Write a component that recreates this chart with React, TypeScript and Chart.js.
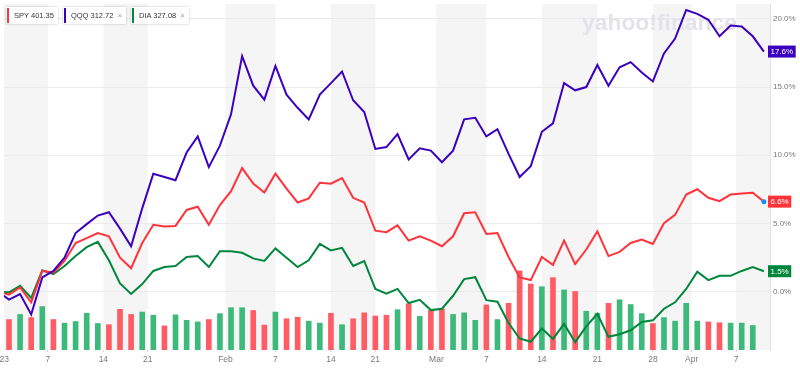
import { useEffect, useRef } from "react";
import { Chart, registerables } from "chart.js";

Chart.register(...registerables);

// ---- data ----
const tickers = ["SPY", "QQQ", "DIA"];
const prices = ["401.35", "312.72", "327.08"];
const removable = [false, true, true];

// % change, first value = previous close (Dec 30), then trading days Jan 3 .. Apr 12
const spyChange = [
  0, -0.22, 0.31, -0.78, 1.52, 1.4, 2.25, 3.57, 3.93, 4.3, 4.06, 2.49, 1.72, 3.57, 4.9, 4.78, 4.82,
  5.99, 6.23, 4.9, 6.35, 7.37, 9.06, 7.92, 7.27, 8.65, 7.56, 6.54, 6.84, 7.99, 7.92, 8.33, 6.88,
  6.54, 4.47, 4.36, 4.86, 3.74, 4.06, 3.74, 3.33, 4.06, 5.75, 5.82, 4.23, 4.3, 2.54, 1.04, 0.85,
  2.54, 1.96, 3.74, 2.02, 3.09, 4.42, 2.61, 2.92, 3.57, 3.82, 3.5, 5.02, 5.63, 7.12, 7.51, 6.88,
  6.64, 7.12, 7.2, 7.25, 6.6,
];
const qqqChange = [
  0, -0.58, -0.17, -1.67, 1.04, 1.52, 2.49, 4.3, 4.95, 5.58, 5.82, 4.62, 3.33, 6.11, 8.64, 8.41,
  8.17, 10.2, 11.38, 9.13, 10.7, 13.0, 17.27, 15.1, 14.08, 16.55, 14.44, 13.48, 12.63, 14.44,
  15.29, 16.14, 14.03, 13.17, 10.46, 10.6, 11.55, 9.69, 10.51, 10.34, 9.49, 10.34, 12.63, 12.75,
  11.38, 11.91, 10.1, 8.41, 9.2, 11.72, 12.34, 15.29, 14.76, 15.0, 16.62, 15.1, 16.45, 16.83,
  16.06, 15.41, 17.46, 18.55, 20.65, 20.36, 19.93, 18.72, 19.51, 19.44, 18.72, 17.6,
];
const diaChange = [
  0, -0.05, 0.43, -0.46, 1.57, 1.28, 1.88, 2.61, 3.26, 3.65, 2.3, 0.6, -0.17, 0.56, 1.52, 1.81,
  1.88, 2.54, 2.61, 1.81, 2.97, 2.97, 2.85, 2.44, 2.25, 3.17, 2.49, 1.81, 2.3, 3.5, 3.02, 3.21,
  1.88, 2.25, 0.2, -0.15, 0.2, -0.83, -0.6, -1.35, -1.25, -0.3, 0.92, 1.06, -0.62, -0.74, -2.3,
  -3.43, -3.67, -2.7, -3.46, -2.36, -3.7, -2.54, -1.62, -3.31, -3.12, -2.83, -2.22, -2.1, -1.25,
  -0.78, 0.2, 1.47, 0.85, 1.16, 1.16, 1.52, 1.81, 1.5,
];
// SPY volume (millions), trading days Jan 3 .. Apr 11
const spyVolume = [
  77, 90, 82, 110, 77, 68, 72, 93, 67, 64, 103, 90, 96, 88, 61, 89, 75, 71, 77, 92, 107, 107, 100,
  63, 96, 79, 83, 73, 68, 93, 64, 79, 94, 86, 88, 102, 117, 85, 100, 104, 90, 94, 75, 114, 77, 118,
  200, 167, 160, 183, 152, 148, 98, 93, 118, 127, 115, 92, 67, 82, 73, 118, 73, 71, 69, 68, 68, 62,
];
// x tick labels and their trading-day positions
const xTickLabels = ["2023", "7", "14", "21", "Feb", "7", "14", "21", "Mar", "7", "14", "21", "28", "Apr", "7"];
const xTickPos = [-0.85, 3.5, 8.5, 12.5, 19.5, 24, 29, 33, 38.5, 43, 48, 53, 58, 61.5, 65.5];
const yTicks = [0, 5, 10, 15, 20];

// ---- styles ----
const FONT = '"Liberation Sans", Arial, sans-serif';
const COLORS: Record<string, string> = { SPY: "#ff333a", QQQ: "#3c00bf", DIA: "#00873c" };
const VOL_UP = "#3dba7b";
const VOL_DOWN = "#ff5d66";
const X_MIN = -0.45;
const X_MAX = 68.55;
const Y_MIN = -4.275;
const Y_MAX = 21.087;
const VOL_MAX = 875;

const bandsPlugin = {
  id: "bands",
  beforeDraw(chart: any) {
    const { ctx, chartArea, scales } = chart;
    const x = scales.x;
    const bounds = [chartArea.left, ...xTickPos.slice(1).map((v) => x.getPixelForValue(v)), chartArea.right];
    ctx.save();
    ctx.fillStyle = "#f5f5f5";
    for (let i = 0; i < bounds.length - 1; i += 2) {
      ctx.fillRect(bounds[i], chartArea.top, bounds[i + 1] - bounds[i], chartArea.bottom - chartArea.top);
    }
    ctx.restore();
  },
};

const watermarkPlugin = {
  id: "watermark",
  beforeDatasetsDraw(chart: any) {
    const { ctx, chartArea } = chart;
    const text = "yahoo!finance";
    ctx.save();
    ctx.font = `bold 20px ${FONT}`;
    const w = ctx.measureText(text).width;
    const size = (20 * 155) / w;
    ctx.font = `bold ${size}px ${FONT}`;
    ctx.fillStyle = "#e3e3e9";
    ctx.textBaseline = "alphabetic";
    ctx.fillText(text, chartArea.right - 188, chartArea.top + 26);
    ctx.restore();
  },
};

const endLabelsPlugin = {
  id: "endLabels",
  afterDraw(chart: any) {
    const { ctx, chartArea, scales } = chart;
    ctx.save();
    ctx.font = `8px ${FONT}`;
    ctx.textBaseline = "middle";
    chart.data.datasets.forEach((ds: any) => {
      if (ds.type !== "line") return;
      const last = ds.data[ds.data.length - 1].y as number;
      const py = scales.y.getPixelForValue(last);
      const text = last.toFixed(1) + "%";
      const w = ctx.measureText(text).width + 5;
      const x0 = chartArea.right - 2;
      ctx.fillStyle = ds.borderColor;
      ctx.fillRect(x0, py - 6, w, 12);
      ctx.fillStyle = "#ffffff";
      ctx.fillText(text, x0 + 2.5, py + 0.5);
    });
    ctx.restore();
  },
};

export default function App() {
  const ref = useRef<HTMLCanvasElement>(null);

  useEffect(() => {
    const canvas = ref.current;
    if (!canvas) return;
    const toXY = (arr: number[]) => arr.map((v, i) => ({ x: i - 1, y: v }));
    const volColors = spyVolume.map((_, i) => (spyChange[i + 1] >= spyChange[i] ? VOL_UP : VOL_DOWN));
    const lastSpy = spyChange.length - 1;

    const chart = new Chart(canvas, {
      type: "bar",
      data: {
        datasets: [
          {
            type: "line",
            label: "QQQ",
            data: toXY(qqqChange),
            borderColor: COLORS.QQQ,
            borderWidth: 2,
            pointRadius: 0,
            tension: 0,
            yAxisID: "y",
            order: 1,
          },
          {
            type: "line",
            label: "SPY",
            data: toXY(spyChange),
            borderColor: COLORS.SPY,
            borderWidth: 2,
            pointRadius: (c: any) => (c.dataIndex === lastSpy ? 2.5 : 0),
            pointBackgroundColor: "#1e8cff",
            pointBorderWidth: 0,
            tension: 0,
            yAxisID: "y",
            order: 2,
          },
          {
            type: "line",
            label: "DIA",
            data: toXY(diaChange),
            borderColor: COLORS.DIA,
            borderWidth: 2,
            pointRadius: 0,
            tension: 0,
            yAxisID: "y",
            order: 3,
          },
          {
            type: "bar",
            label: "Volume",
            data: spyVolume.map((v, i) => ({ x: i, y: v })),
            backgroundColor: volColors,
            barThickness: 5,
            yAxisID: "yv",
            order: 10,
          },
        ] as any,
      },
      options: {
        animation: false,
        responsive: false,
        layout: { padding: 0 },
        plugins: { legend: { display: false }, tooltip: { enabled: false } },
        scales: {
          x: {
            type: "linear",
            min: X_MIN,
            max: X_MAX,
            offset: false,
            afterBuildTicks: (s: any) => {
              s.ticks = xTickPos.map((v) => ({ value: v }));
            },
            afterFit: (s: any) => {
              s.height = 21;
              s.paddingLeft = 0;
              s.paddingRight = 0;
            },
            ticks: {
              autoSkip: false,
              maxRotation: 0,
              minRotation: 0,
              callback: (_v: any, i: number) => xTickLabels[i],
              font: { size: 8.5, family: FONT },
              color: "#7a7a7a",
              padding: 3,
            },
            grid: { drawOnChartArea: false, offset: false, tickLength: 2, color: "#d8d8d8" },
            border: { display: false },
          },
          y: {
            position: "right",
            min: Y_MIN,
            max: Y_MAX,
            afterBuildTicks: (s: any) => {
              s.ticks = yTicks.map((v) => ({ value: v }));
            },
            afterFit: (s: any) => {
              s.width = 30;
              s.paddingTop = 0;
              s.paddingBottom = 0;
            },
            ticks: {
              callback: (v: any) => Number(v).toFixed(1) + "%",
              font: { size: 8, family: FONT },
              color: "#777777",
              padding: 3,
            },
            grid: { color: "#ebebeb", drawTicks: false },
            border: { display: true, color: "#e2e2e2" },
          },
          yv: { display: false, min: 0, max: VOL_MAX },
        } as any,
      },
      plugins: [bandsPlugin, watermarkPlugin, endLabelsPlugin],
    });
    return () => chart.destroy();
  }, []);

  return (
    <div style={{ position: "fixed", left: 0, top: 0, width: 800, height: 371, background: "#fff" }}>
      <canvas ref={ref} width={800} height={371} style={{ display: "block" }} />
      <div
        style={{
          position: "absolute",
          left: 6,
          top: 7,
          display: "flex",
          gap: 5,
          fontFamily: FONT,
          fontSize: 7.5,
          color: "#333",
        }}
      >
        {tickers.map((t, i) => (
          <div
            key={t}
            style={{
              display: "flex",
              alignItems: "center",
              height: 17,
              background: "#fff",
              boxShadow: "0 0 2px rgba(0,0,0,0.25)",
              paddingRight: 4,
            }}
          >
            <div style={{ width: 2, height: 15, background: COLORS[t], marginLeft: 1, marginRight: 5 }} />
            <span>{`${t} ${prices[i]}`}</span>
            {removable[i] && <span style={{ color: "#999", marginLeft: 4, fontSize: 8 }}>×</span>}
          </div>
        ))}
      </div>
    </div>
  );
}
